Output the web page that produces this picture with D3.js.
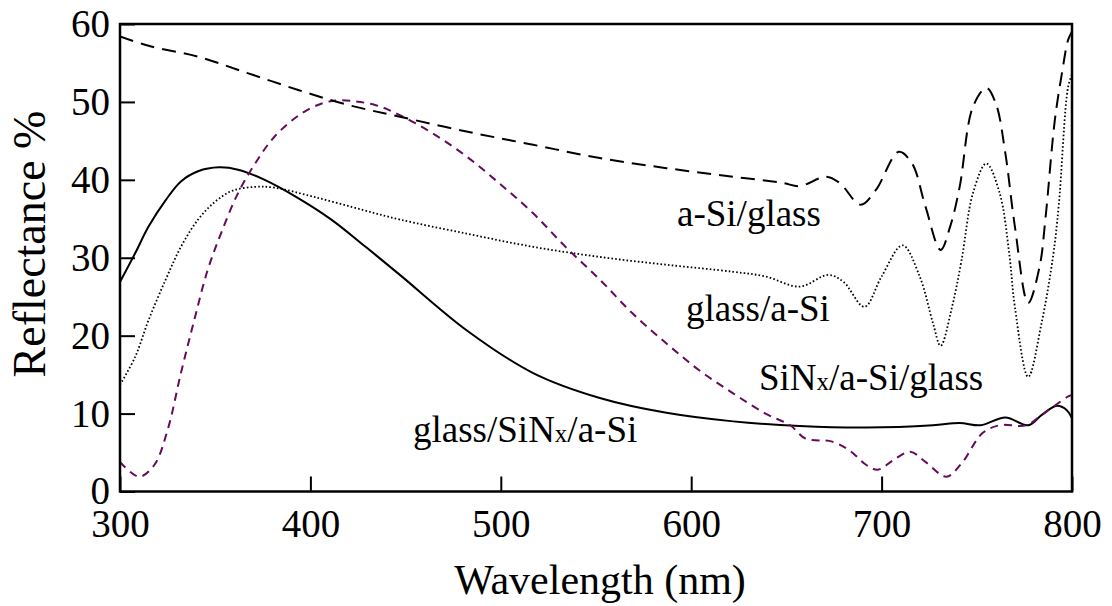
<!DOCTYPE html>
<html>
<head>
<meta charset="utf-8">
<script src="https://cdn.jsdelivr.net/npm/d3@7"></script>
<style>
  html, body { margin: 0; padding: 0; background: #fff; }
  svg { display: block; }
  svg text { font-family: "Liberation Serif", "Times New Roman", Times, "Tinos", "DejaVu Serif", serif; fill: #000; }
</style>
</head>
<body>
<svg id="chart" width="1112" height="606"></svg>
<script>
// ---- Data ----
const xTicks = [300, 400, 500, 600, 700, 800];
const yTicks = [0, 10, 20, 30, 40, 50, 60];

// a-Si/glass (black dashed)
const aSiGlassWl = [300, 315, 341, 367, 394, 420, 447, 482, 517, 552, 587, 622, 648, 657, 671, 678, 689, 697, 709, 716, 723, 731, 736, 741, 748, 755, 760, 765, 770, 777, 783, 786, 791, 795, 798, 800];
const aSiGlassR  = [58.4, 57.2, 55.8, 53.7, 51.5, 49.6, 48.1, 46.2, 44.5, 42.8, 41.5, 40.4, 39.6, 39.2, 40.4, 39.6, 36.8, 38.7, 43.6, 42.1, 36.6, 31.0, 34.0, 39.1, 49.4, 51.8, 49.8, 43.4, 34.0, 24.2, 28.9, 34.9, 47.7, 54.1, 58.0, 59.0];

// glass/a-Si (black dotted)
const glassASiWl = [300, 308, 315, 324, 332, 341, 350, 359, 371, 381, 402, 428, 447, 482, 517, 552, 587, 622, 639, 657, 672, 680, 691, 700, 711, 720, 727, 731, 737, 742, 748, 755, 762, 767, 770, 777, 784, 790, 793, 798, 800];
const glassASiR  = [13.7, 17.3, 22.0, 27.2, 31.4, 34.9, 37.2, 38.6, 39.1, 39.0, 37.8, 36.1, 34.9, 33.1, 31.4, 30.1, 29.1, 28.2, 27.6, 26.3, 27.8, 26.9, 23.7, 27.6, 31.6, 27.6, 21.6, 18.7, 23.7, 29.7, 38.3, 42.1, 38.3, 30.6, 23.7, 14.7, 21.6, 30.1, 36.6, 52.0, 53.5];

// glass/SiNx/a-Si (black solid)
const glassSiNxASiWl = [300, 308, 315, 324, 332, 341, 352, 362, 376, 394, 411, 429, 447, 482, 517, 552, 587, 622, 657, 692, 727, 741, 752, 765, 777, 784, 792, 797, 800];
const glassSiNxASiR  = [26.9, 30.6, 34.0, 37.4, 39.8, 41.1, 41.6, 41.3, 40.0, 37.6, 34.9, 31.4, 27.8, 20.7, 15.2, 12.0, 10.1, 9.0, 8.4, 8.2, 8.5, 8.8, 8.5, 9.5, 8.5, 9.8, 11.0, 10.5, 9.4];

// SiNx/a-Si/glass (purple dashed)
const siNxASiGlassWl = [300, 310, 318, 325, 332, 339, 346, 353, 362, 371, 381, 394, 406, 416, 434, 447, 464, 482, 499, 517, 534, 552, 569, 587, 604, 622, 639, 652, 660, 674, 683, 692, 698, 706, 715, 723, 734, 742, 753, 762, 776, 784, 798, 800];
const siNxASiGlassR  = [3.8, 1.9, 3.4, 7.9, 15.2, 22.0, 28.4, 33.1, 38.3, 42.1, 45.5, 48.3, 49.8, 50.2, 49.6, 48.3, 46.0, 43.0, 39.6, 35.7, 31.4, 27.2, 22.9, 19.0, 15.6, 12.6, 10.0, 8.5, 6.8, 6.4, 5.3, 3.4, 2.8, 4.0, 5.1, 3.8, 1.9, 3.6, 7.5, 8.5, 8.5, 9.8, 12.2, 12.4];

const seriesNames = ["a-Si/glass", "glass/a-Si", "SiNx/a-Si/glass", "glass/SiNx/a-Si"];

// ---- Chart ----
const FONT = '"Liberation Serif", "Times New Roman", Times, Tinos, "DejaVu Serif", serif';
const svg = d3.select("#chart");
const mLeft = 120, mRight = 1072, mTop = 24, mBottom = 491.5;

const x = d3.scaleLinear().domain([300, 800]).range([mLeft, mRight]);
const y = d3.scaleLinear().domain([0, 60]).range([mBottom, mTop]);

const clipId = "plotclip";
svg.append("defs").append("clipPath").attr("id", clipId)
  .append("rect").attr("x", mLeft).attr("y", mTop).attr("width", mRight - mLeft).attr("height", mBottom - mTop);

const line = d3.line().x(d => x(d[0])).y(d => y(d[1])).curve(d3.curveCatmullRom.alpha(0.5));
const zip = (a, b) => a.map((v, i) => [v, b[i]]);

const series = [
  { wl: glassSiNxASiWl, r: glassSiNxASiR, color: "#000", width: 2, dash: null },
  { wl: glassASiWl, r: glassASiR, color: "#000", width: 1.8, dash: "1.6,2.2" },
  { wl: siNxASiGlassWl, r: siNxASiGlassR, color: "#650a5c", width: 2, dash: "8,6" },
  { wl: aSiGlassWl, r: aSiGlassR, color: "#000", width: 2, dash: "14,8" }
];

const lines = svg.append("g").attr("clip-path", `url(#${clipId})`);
series.forEach(s => {
  lines.append("path")
    .datum(zip(s.wl, s.r))
    .attr("d", line)
    .attr("fill", "none")
    .attr("stroke", s.color)
    .attr("stroke-width", s.width)
    .attr("stroke-dasharray", s.dash)
    .attr("stroke-linejoin", "round");
});

// Axes
const yAxis = d3.axisLeft(y).tickValues(yTicks).tickSize(-15).tickPadding(10);
const gy = svg.append("g").attr("transform", `translate(${mLeft},0)`).call(yAxis);
const xAxis = d3.axisBottom(x).tickValues(xTicks).tickSize(-15).tickPadding(18);
const gx = svg.append("g").attr("transform", `translate(0,${mBottom})`).call(xAxis);
[gx, gy].forEach(g => {
  g.attr("font-family", FONT).attr("font-size", 39);
  g.select(".domain").remove();
  g.selectAll(".tick line").attr("stroke", "#000").attr("stroke-width", 2);
  g.selectAll(".tick text").attr("font-family", FONT).style("font-family", FONT).style("font-size", "39px").attr("fill", "#000");
});

// Frame
svg.append("rect")
  .attr("x", mLeft).attr("y", mTop)
  .attr("width", mRight - mLeft).attr("height", mBottom - mTop)
  .attr("fill", "none").attr("stroke", "#000").attr("stroke-width", 2.5);

// Axis titles
svg.append("text")
  .attr("x", 600).attr("y", 594)
  .attr("text-anchor", "middle")
  .attr("font-family", FONT).style("font-family", FONT)
  .style("font-size", "42px")
  .text("Wavelength (nm)");

svg.append("text")
  .attr("transform", "translate(45,244) rotate(-90)")
  .attr("text-anchor", "middle")
  .attr("font-family", FONT).style("font-family", FONT)
  .style("font-size", "46px")
  .text("Reflectance %");

// Annotations
function label(xPx, yPx, parts) {
  const t = svg.append("text").attr("x", xPx).attr("y", yPx)
    .attr("font-family", FONT).style("font-family", FONT).style("font-size", "37px");
  parts.forEach(p => {
    const ts = t.append("tspan").text(p.t);
    if (p.small) ts.style("font-size", "25px");
  });
}
label(677, 226, [{ t: "a-Si/glass" }]);
label(686, 321, [{ t: "glass/a-Si" }]);
label(759, 390, [{ t: "SiN" }, { t: "x", small: true }, { t: "/a-Si/glass" }]);
label(413, 442, [{ t: "glass/SiN" }, { t: "x", small: true }, { t: "/a-Si" }]);
</script>
</body>
</html>
